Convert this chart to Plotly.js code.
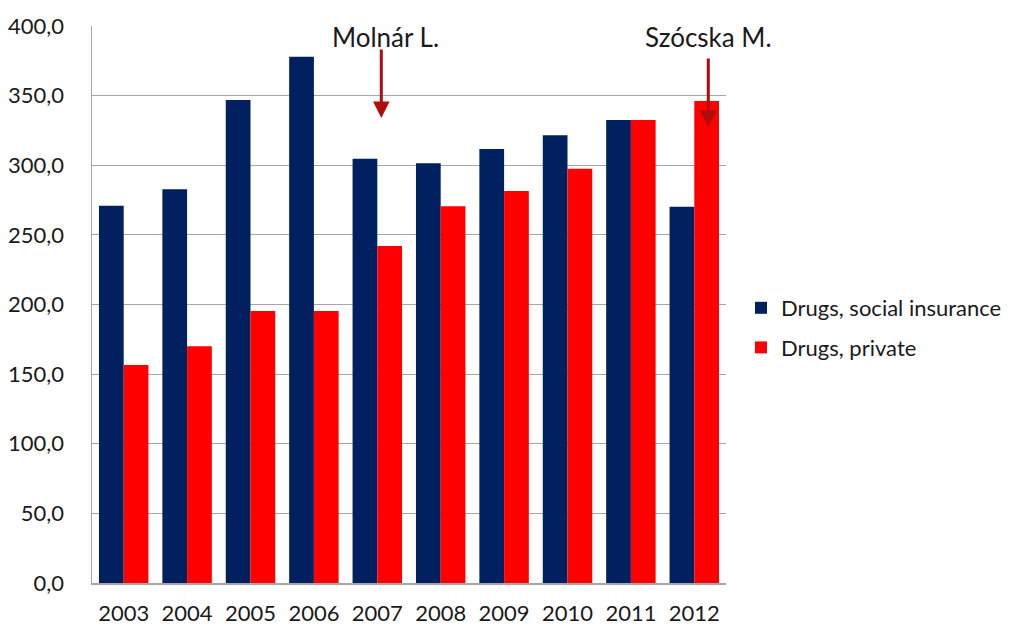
<!DOCTYPE html>
<html>
<head>
<meta charset="utf-8">
<script src="https://cdn.plot.ly/plotly-3.0.1.min.js"></script>
<style>html,body{margin:0;padding:0;background:#fff;}#chart{width:1009px;height:632px;}</style>
</head>
<body>
<div id="chart"></div>
<script>
const years = ['2003','2004','2005','2006','2007','2008','2009','2010','2011','2012'];
const socialInsurance = [271.0, 282.7, 346.9, 378.0, 304.7, 301.4, 311.7, 321.5, 332.5, 270.2];
const privateDrugs = [156.5, 170.0, 195.3, 195.3, 242.0, 270.5, 281.5, 297.5, 332.5, 346.1];
const yTicks = [0, 50, 100, 150, 200, 250, 300, 350, 400];
const yTickText = ['0,0','50,0','100,0','150,0','200,0','250,0','300,0','350,0','400,0'];
const seriesNames = ['Drugs, social insurance', 'Drugs, private'];
const notes = [
  {label: 'Molnár L.', year: '2007', tip: 334, shift: 4, textShift: 8},
  {label: 'Szócska M.', year: '2012', tip: 327.5, shift: 14, textShift: 14}
];

const FONT = 'Lato, "Open Sans", sans-serif';
const traces = [
  {type: 'bar', name: seriesNames[0], x: years, y: socialInsurance, marker: {color: '#002060'}, legendgroup: 'a'},
  {type: 'bar', name: seriesNames[1], x: years, y: privateDrugs, marker: {color: '#ff0000'}, legendgroup: 'b'}
];

const annotations = [];
notes.forEach(n => {
  const xi = years.indexOf(n.year);
  annotations.push({x: xi, y: n.tip, xref: 'x', yref: 'y', xshift: n.shift, text: '',
    showarrow: true, arrowhead: 2, arrowsize: 1.1, arrowwidth: 3, arrowcolor: '#b00c0c', ax: 0, ay: -70});
  annotations.push({x: xi, y: 400, xref: 'x', yref: 'y', xshift: n.textShift, yshift: -11, text: n.label,
    showarrow: false, font: {family: FONT, size: 26, color: '#1a1a1a'}});
});

const layout = {
  width: 1009, height: 632,
  margin: {l: 92, r: 283, t: 26, b: 49},
  paper_bgcolor: '#fff', plot_bgcolor: '#fff',
  barmode: 'group', bargap: 0.22, bargroupgap: 0,
  font: {family: FONT, size: 22, color: '#1a1a1a'},
  xaxis: {type: 'category', range: [-0.5, 9.5], autorange: false, showgrid: false, showline: true, linecolor: '#a6a6a6', linewidth: 1.5,
    ticks: '', tickfont: {family: FONT, size: 22, color: '#1a1a1a'}, automargin: false, ticklabelstandoff: 10},
  yaxis: {range: [0, 400], autorange: false, tickvals: yTicks, ticktext: yTickText, showgrid: true, gridcolor: '#a6a6a6', gridwidth: 1,
    showline: true, linecolor: '#a6a6a6', linewidth: 1.5, zeroline: false, ticks: '',
    tickfont: {family: FONT, size: 22, color: '#1a1a1a'}, automargin: false, ticklabelstandoff: 22},
  legend: {xref: 'container', yref: 'container', x: 0.7344, xanchor: 'left', y: 0.481, yanchor: 'middle',
    font: {family: FONT, size: 22, color: '#1a1a1a'},
    tracegroupgap: 8, itemwidth: 30, bgcolor: 'rgba(0,0,0,0)'},
  annotations: annotations,
  showlegend: true
};

Plotly.newPlot('chart', traces, layout, {staticPlot: true, displayModeBar: false});
</script>
</body>
</html>
